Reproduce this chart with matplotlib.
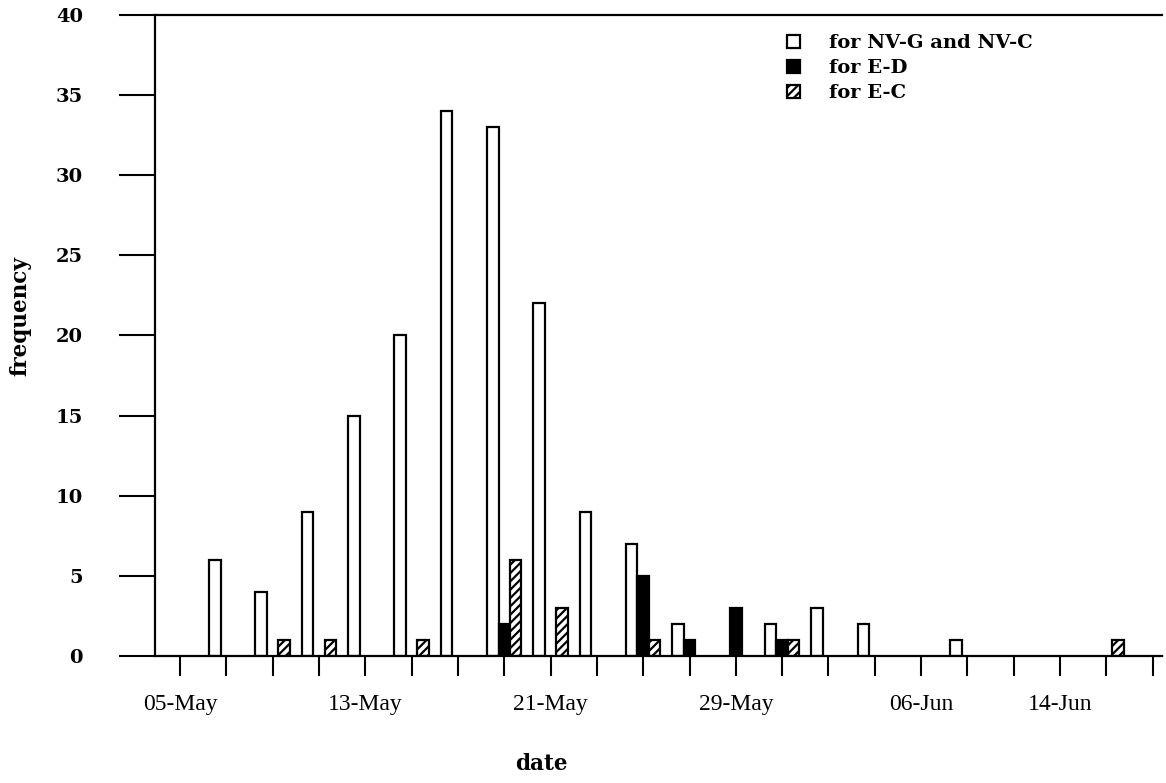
import matplotlib
matplotlib.use("Agg")
import matplotlib.pyplot as plt
import numpy as np

# Two-day observation bins along the x axis; only some carry a date label
tick_labels = ["05-May", "", "", "", "13-May", "", "", "", "21-May", "", "", "",
               "29-May", "", "", "", "06-Jun", "", "", "14-Jun", "", ""]

# Frequencies per bin for each group
nv_g_c = [0, 6, 4, 9, 15, 20, 34, 33, 22, 9, 7, 2, 0, 2, 3, 2, 0, 1, 0, 0, 0, 0]
e_d = [0, 0, 0, 0, 0, 0, 0, 2, 0, 0, 5, 1, 3, 1, 0, 0, 0, 0, 0, 0, 0, 0]
e_c = [0, 0, 1, 1, 0, 1, 0, 6, 3, 0, 1, 0, 0, 1, 0, 0, 0, 0, 0, 0, 1, 0]

series_names = ["for NV-G and NV-C", "for E-D", "for E-C"]

plt.rcParams["hatch.linewidth"] = 1.6
plt.rcParams["hatch.color"] = "black"

fig = plt.figure(figsize=(11.66, 7.83), dpi=100)
ax = fig.add_axes([155 / 1166, 127 / 783, 1007 / 1166, 641 / 783])

x = np.arange(len(tick_labels))
w = 0.248


def draw(values, offset, **style):
    v = np.asarray(values, dtype=float)
    keep = v > 0
    return ax.bar(x[keep] + offset, v[keep], width=w, edgecolor="black",
                  linewidth=1.6, **style)


b1 = draw(nv_g_c, -w, facecolor="white", label=series_names[0])
b2 = draw(e_d, 0.0, facecolor="black", label=series_names[1])
b3 = draw(e_c, w, facecolor="white", hatch="////", label=series_names[2])

ax.set_xlim(-0.54, 21.2)
ax.set_ylim(0, 40)

ax.spines["right"].set_visible(False)
for s in ("left", "top", "bottom"):
    ax.spines[s].set_linewidth(1.6)

ax.set_yticks(np.arange(0, 41, 5))
ax.set_yticklabels([str(v) for v in range(0, 41, 5)],
                   family="DejaVu Serif", fontweight="bold", fontsize=14)
ax.tick_params(axis="y", direction="out", length=26, width=1.5, pad=26)

ax.set_xticks(x)
ax.set_xticklabels(tick_labels, family="Liberation Serif", fontsize=17)
ax.tick_params(axis="x", direction="out", length=14.5, width=1.5, pad=13)

label_font = {"family": "DejaVu Serif", "fontweight": "bold", "fontsize": 15.5}
ax.set_xlabel("date", **label_font)
ax.xaxis.set_label_coords(0.384, -0.152)
ax.set_ylabel("frequency", **label_font)
ax.yaxis.set_label_coords(-0.123, 0.53)

leg = ax.legend(handles=[b1, b2, b3], loc="upper left",
                bbox_to_anchor=(0.62, 0.982), frameon=False,
                prop={"family": "DejaVu Serif", "weight": "bold", "size": 14},
                handlelength=0.65, handleheight=0.65, handletextpad=1.5,
                labelspacing=0.36, borderaxespad=0)

fig.savefig("out.png", dpi=100, facecolor="white")
